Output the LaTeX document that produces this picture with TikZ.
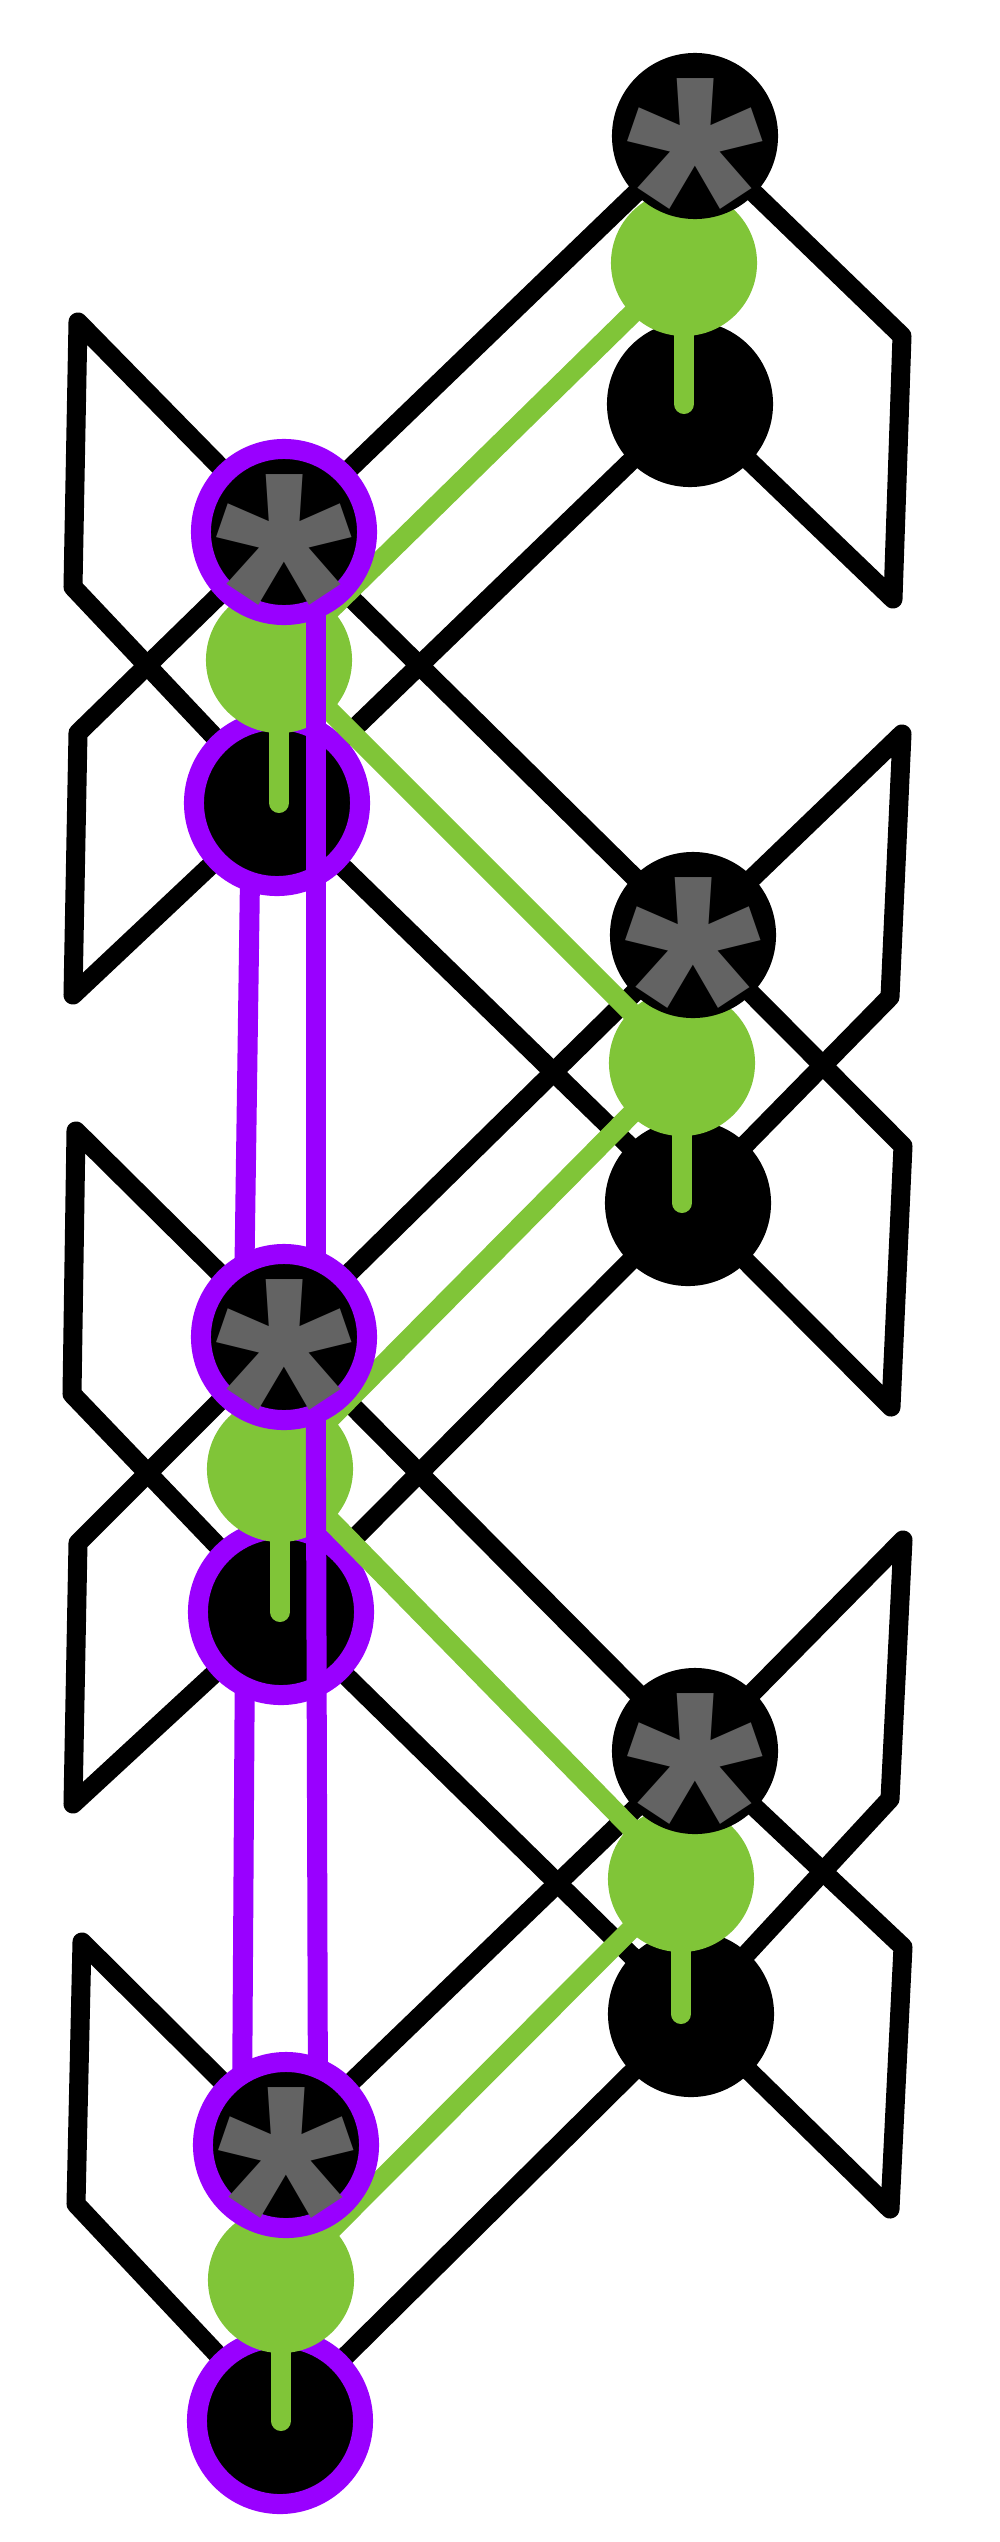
\documentclass[tikz,border=0pt]{standalone}
\usepackage{fontspec}
\newfontfamily\starfont{Liberation Sans Bold}
\usetikzlibrary{calc}
\definecolor{leaf}{RGB}{128,197,56}
\definecolor{ringviolet}{RGB}{153,0,255}
\definecolor{stargray}{RGB}{99,99,99}
\pgfdeclarelayer{bands}
\pgfdeclarelayer{lower}
\pgfdeclarelayer{upper}
\pgfdeclarelayer{topmost}
\pgfsetlayers{bands,lower,main,upper,topmost}
\tikzset{
  bandline/.style={line width=1.9mm, line join=round, line cap=round},
  greenline/.style={draw=leaf, line width=2mm, line cap=round},
  violetline/.style={draw=ringviolet, line width=2mm, shorten <=-1mm, shorten >=-1mm},
  blacknode/.style={circle, fill=black, minimum size=16.6mm, inner sep=0pt},
  ringnode/.style={blacknode, draw=ringviolet, line width=2mm},
  greennode/.style={circle, fill=leaf, minimum size=14.6mm, inner sep=0pt},
  startext/.style={text=stargray, font=\starfont\fontsize{100}{100}\selectfont, inner sep=0pt, yshift=-6.3mm},
  starlabel/.style={label={[startext]center:*}}
}

\begin{document}
\begin{tikzpicture}[x=0.01cm, y=-0.01cm]
  \useasboundingbox (0,0) rectangle (1000,2542);

  % black nodes
  \begin{pgfonlayer}{lower}
    \node[blacknode] (r1b) at (690,404) {};
    \node[blacknode] (r2b) at (688,1203) {};
    \node[blacknode] (r3b) at (691,2014) {};
    \node[ringnode] (l1b) at (277,803) {};
    \node[ringnode] (l2b) at (281,1612) {};
    \node[ringnode] (l3b) at (280,2421) {};
  \end{pgfonlayer}

  % green nodes
  \node[greennode] (r1g) at (684,263) {};
  \node[greennode] (r2g) at (682,1063) {};
  \node[greennode] (r3g) at (681,1879) {};
  \node[greennode] (l1g) at (279,660) {};
  \node[greennode] (l2g) at (280,1469) {};
  \node[greennode] (l3g) at (281,2280) {};

  % star nodes
  \begin{pgfonlayer}{upper}
    \node[blacknode, starlabel] (r1s) at (695,136) {};
    \node[blacknode, starlabel] (r2s) at (693,935) {};
    \node[blacknode, starlabel] (r3s) at (695,1751) {};
    \node[ringnode, starlabel] (l1s) at (284,532) {};
    \node[ringnode, starlabel] (l2s) at (284,1337) {};
    \node[ringnode, starlabel] (l3s) at (286,2145) {};
  \end{pgfonlayer}

  % outer corners
  \coordinate (lv1) at (78,322);
  \coordinate (lv2) at (73,587);
  \coordinate (lv3) at (78,733);
  \coordinate (lv4) at (73,995);
  \coordinate (lv5) at (76,1131);
  \coordinate (lv6) at (72,1394);
  \coordinate (lv7) at (78,1543);
  \coordinate (lv8) at (73,1804);
  \coordinate (lv9) at (82,1942);
  \coordinate (lv10) at (76,2204);
  \coordinate (rv1) at (902,336);
  \coordinate (rv2) at (893,599);
  \coordinate (rv3) at (902,734);
  \coordinate (rv4) at (890,997);
  \coordinate (rv5) at (903,1146);
  \coordinate (rv6) at (891,1407);
  \coordinate (rv7) at (903,1540);
  \coordinate (rv8) at (890,1799);
  \coordinate (rv9) at (903,1947);
  \coordinate (rv10) at (890,2209);

  \begin{pgfonlayer}{bands}
    \draw[bandline] (lv3) -- (l1s.center) -- (r1s.center) -- (rv1) -- (rv2) -- (r1b.center) -- (l1b.center) -- (lv4) -- cycle;
    \draw[bandline] (lv1) -- (l1s.center) -- (r2s.center) -- (rv5) -- (rv6) -- (r2b.center) -- (l1b.center) -- (lv2) -- cycle;
    \draw[bandline] (rv3) -- (r2s.center) -- (l2s.center) -- (lv7) -- (lv8) -- (l2b.center) -- (r2b.center) -- (rv4) -- cycle;
    \draw[bandline] (lv5) -- (l2s.center) -- (r3s.center) -- (rv9) -- (rv10) -- (r3b.center) -- (l2b.center) -- (lv6) -- cycle;
    \draw[bandline] (lv9) -- (l3s.center) -- (r3s.center) -- (rv7) -- (rv8) -- (r3b.center) -- (l3b.center) -- (lv10) -- cycle;
  \end{pgfonlayer}

  % green chain
  \draw[greenline] (r1g.center) -- (l1g.center) -- (r2g.center) -- (l2g.center) -- (r3g.center) -- (l3g.center);
  \foreach \c in {r1,r2,r3,l1,l2,l3}
    \draw[greenline] (\c g.center) -- (\c g.center |- \c b.center);

  \begin{pgfonlayer}{topmost}
    \draw[violetline] (l1s.-70) -- (l2s.70);
    \draw[violetline] (l2s.-70) -- (l3s.70);
    \draw[violetline] (l1b.-107) -- (l2s.115);
    \draw[violetline] (l2b.-113) -- (l3s.118);
  \end{pgfonlayer}
\end{tikzpicture}
\end{document}
